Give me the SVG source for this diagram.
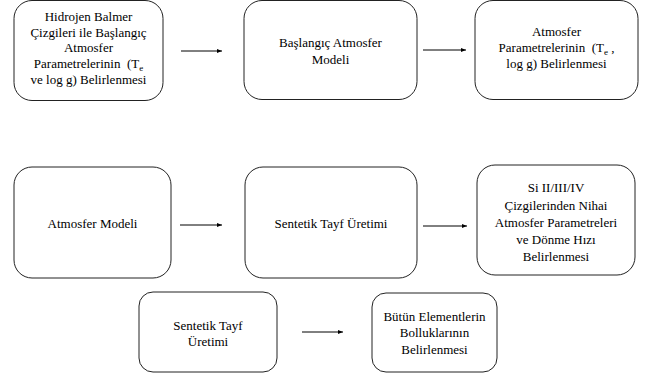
<svg xmlns="http://www.w3.org/2000/svg" width="647" height="378" viewBox="0 0 647 378" font-family="Liberation Serif, Times New Roman, DejaVu Serif, serif">
<defs>
<marker id="ah" markerWidth="6" markerHeight="6" refX="5" refY="3" orient="auto" markerUnits="userSpaceOnUse">
<path d="M0,1 L5,3 L0,5 Z" fill="#000"/>
</marker>
<style>
.box{fill:#fff;stroke:#222;stroke-width:1}
.t{font-size:13px;fill:#000;text-anchor:middle}
.c{stroke:#000;stroke-width:1;fill:none;marker-end:url(#ah)}
.sub{font-size:9px}
</style>
</defs>
<rect width="647" height="378" fill="#fff"/>
<g id="n1">
<rect class="box" x="14" y="0.5" width="149" height="100" rx="18"/>
<text class="t" x="88.5" y="21">Hidrojen Balmer</text>
<text class="t" x="88.5" y="37">Çizgileri ile Başlangıç</text>
<text class="t" x="88.5" y="52">Atmosfer</text>
<text class="t" x="88.5" y="68" xml:space="preserve">Parametrelerinin  (T<tspan class="sub" dy="3">e</tspan></text>
<text class="t" x="88.5" y="84">ve log g) Belirlenmesi</text>
</g>
<g id="n2">
<rect class="box" x="244" y="0.5" width="173" height="99" rx="18"/>
<text class="t" x="330.5" y="47">Başlangıç Atmosfer</text>
<text class="t" x="330.5" y="64">Modeli</text>
</g>
<g id="n3">
<rect class="box" x="475" y="0.5" width="163" height="99" rx="18"/>
<text class="t" x="556.5" y="36">Atmosfer</text>
<text class="t" x="556.5" y="52" xml:space="preserve">Parametrelerinin  (T<tspan class="sub" dy="3">e</tspan><tspan dy="-3"> ,</tspan></text>
<text class="t" x="556.5" y="68">log g) Belirlenmesi</text>
</g>
<g id="n4">
<rect class="box" x="14" y="167" width="157" height="111" rx="18"/>
<text class="t" x="92.5" y="228">Atmosfer Modeli</text>
</g>
<g id="n5">
<rect class="box" x="245" y="167" width="172" height="111" rx="18"/>
<text class="t" x="331" y="228">Sentetik Tayf Üretimi</text>
</g>
<g id="n6">
<rect class="box" x="477" y="165" width="158" height="110" rx="18"/>
<text class="t" x="556" y="192">Si II/III/IV</text>
<text class="t" x="556" y="210">Çizgilerinden Nihai</text>
<text class="t" x="556" y="227">Atmosfer Parametreleri</text>
<text class="t" x="556" y="244">ve Dönme Hızı</text>
<text class="t" x="556" y="261">Belirlenmesi</text>
</g>
<g id="n7">
<rect class="box" x="139" y="292" width="138" height="80" rx="14"/>
<text class="t" x="208" y="330">Sentetik Tayf</text>
<text class="t" x="208" y="346">Üretimi</text>
</g>
<g id="n8">
<rect class="box" x="372" y="293" width="125" height="79" rx="14"/>
<text class="t" x="434.5" y="321">Bütün Elementlerin</text>
<text class="t" x="434.5" y="337">Bolluklarının</text>
<text class="t" x="434.5" y="354">Belirlenmesi</text>
</g>
<g id="connectors">
<line class="c" x1="181" y1="51" x2="222" y2="51"/>
<line class="c" x1="423" y1="50" x2="466" y2="50"/>
<line class="c" x1="180" y1="225" x2="222" y2="225"/>
<line class="c" x1="423" y1="226" x2="467" y2="226"/>
<line class="c" x1="302" y1="332" x2="343" y2="332"/>
</g>
</svg>
